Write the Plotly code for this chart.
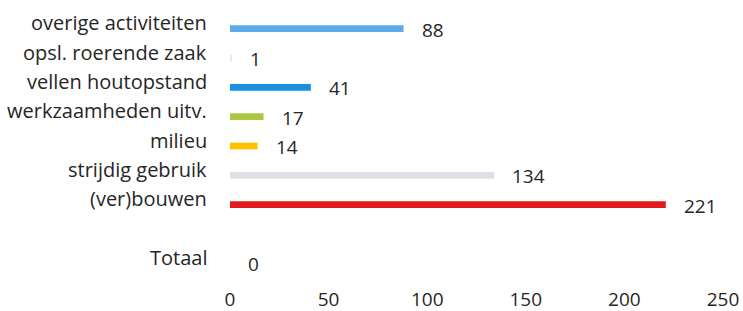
import plotly.graph_objects as go

categories = ["overige activiteiten", "opsl. roerende zaak", "vellen houtopstand",
              "werkzaamheden uitv.", "milieu", "strijdig gebruik", "(ver)bouwen", " ", "Totaal"]
values = [88, 1, 41, 17, 14, 134, 221, None, 0]
value_labels = ["88", "1", "41", "17", "14", "134", "221", "", "0"]
colors = ["#5DAAEA", "#E4E8EE", "#1A8FE3", "#A9C83F", "#FFC000", "#DDE0E7", "#E01A1E", "#FFFFFF", "#FFFFFF"]
x_ticks = [0, 50, 100, 150, 200, 250]

FONT = "Open Sans"
TXT = "#262626"
fig = go.Figure()
fig.add_trace(go.Bar(
    y=categories, x=values, orientation="h",
    marker=dict(color=colors, line=dict(width=0)),
    width=0.23, hoverinfo="skip",
))

for cat, v, lab in zip(categories, values, value_labels):
    if lab:
        fig.add_annotation(x=v, y=cat, text=lab, showarrow=False,
                           xanchor="left", xshift=16, yshift=-1,
                           font=dict(family=FONT, size=19, color=TXT))
    if cat.strip():
        fig.add_annotation(x=0, y=cat, text=cat, showarrow=False,
                           xanchor="right", xshift=-21, yshift=6,
                           font=dict(family=FONT, size=20, color=TXT))

fig.update_layout(
    width=743, height=311,
    margin=dict(l=230, r=20, t=14, b=33, pad=0, autoexpand=False),
    paper_bgcolor="white", plot_bgcolor="white",
    showlegend=False,
    font=dict(family=FONT, size=19, color=TXT),
    xaxis=dict(range=[0, 250], tickvals=x_ticks, showgrid=False, zeroline=False,
               showline=False, ticks="", automargin=False, ticklabelstandoff=8,
               tickfont=dict(size=19, color=TXT)),
    yaxis=dict(categoryorder="array", categoryarray=categories,
               range=[len(categories) - 0.5, -0.5],
               showgrid=False, zeroline=False, showline=False, ticks="", automargin=False,
               showticklabels=False),
)

fig.write_html("out.html", config={"displayModeBar": False},
               post_script="document.body.style.margin='0';document.body.style.overflow='hidden';")
